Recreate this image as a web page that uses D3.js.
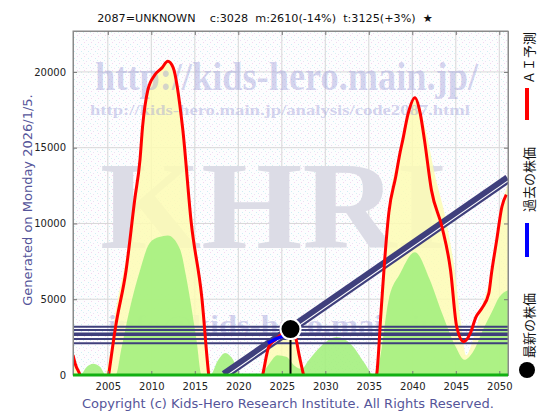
<!DOCTYPE html>
<html><head><meta charset="utf-8">
<script src="https://cdn.jsdelivr.net/npm/d3@7"></script>
<style>body{margin:0;background:#fff}</style>
</head><body><svg id="c" width="560" height="420"></svg>
<script>
// ---------------- data ----------------
const titleText = "2087=UNKNOWN    c:3028  m:2610(-14%)  t:3125(+3%)  \u2605";
const yAxisLabel = "Generated on Monday 2026/1/5.";
const copyrightText = "Copyright (c) Kids-Hero Research Institute. All Rights Reserved.";
const xTicks = [2005, 2010, 2015, 2020, 2025, 2030, 2035, 2040, 2045, 2050];
const yTicks = [0, 5000, 10000, 15000, 20000];
const legendLabels = ["\uFF21\uFF29\u4E88\u6E2C", "\u904E\u53BB\u306E\u682A\u4FA1", "\u6700\u65B0\u306E\u682A\u4FA1"];

// AI forecast (red); negative values fall below the axis and are clipped
const forecastYears  = [2001.0, 2001.3, 2001.8, 2002.8, 2004.2, 2005.1, 2005.9, 2007.1, 2008.1, 2008.7, 2009.0, 2009.6, 2010.4, 2011.2, 2011.9, 2012.5, 2013.6, 2014.6, 2015.8, 2016.6, 2018.0, 2020.5, 2022.8, 2023.5, 2024.2, 2025.0, 2026.0, 2026.6, 2027.0, 2027.5, 2029.5, 2033.5, 2035.9, 2036.4, 2036.8, 2037.3, 2038.1, 2038.6, 2038.9, 2039.5, 2040.3, 2040.9, 2041.4, 2042.2, 2043.4, 2044.4, 2045.1, 2045.9, 2046.7, 2047.3, 2048.0, 2048.8, 2049.1, 2049.7, 2050.3, 2050.8];
const forecastValues = [1320, 660, 0, -3500, -3500, 0, 3200, 6900, 11600, 14200, 16400, 18800, 19800, 20250, 20700, 20300, 16300, 10000, 5150, 0, -4000, -4000, 0, 1850, 2300, 2700, 3000, 2450, 1300, 0, -4000, -4000, 0, 4100, 7400, 10700, 13100, 14700, 15500, 17200, 18300, 17300, 15500, 12200, 9800, 6900, 3200, 2200, 2800, 3800, 4400, 5400, 6700, 8900, 11100, 11900];

// pale yellow band under the forecast
const bandYears  = [2001.0, 2001.9, 2004.6, 2005.3, 2005.9, 2007.0, 2008.1, 2009.0, 2010.4, 2011.9, 2012.6, 2013.7, 2014.7, 2015.8, 2016.5, 2016.9, 2022.7, 2023.5, 2024.5, 2026.0, 2027.0, 2027.6, 2035.7, 2036.4, 2037.3, 2038.6, 2040.3, 2041.6, 2042.6, 2043.8, 2044.8, 2045.6, 2046.2, 2046.9, 2048.0, 2049.1, 2050.3, 2051.0];
const bandValues = [1300, 0, 0, 1600, 4200, 7400, 11800, 16400, 19800, 20600, 19800, 16200, 10400, 5600, 1500, 0, 0, 1900, 2500, 2800, 1600, 0, 0, 4300, 10900, 14800, 18300, 16000, 13200, 10400, 7200, 3400, 1300, 2200, 4500, 6800, 11200, 12600];

// green hills
const hillYears  = [2001.0, 2001.8, 2002.6, 2003.3, 2004.1, 2004.8, 2005.9, 2006.6, 2007.5, 2008.7, 2009.8, 2010.9, 2011.9, 2013.3, 2014.0, 2014.6, 2015.2, 2015.8, 2016.8, 2017.6, 2018.5, 2019.4, 2020.2, 2022.5, 2023.5, 2024.5, 2025.5, 2026.5, 2027.3, 2028.0, 2029.5, 2031.3, 2033.0, 2034.5, 2035.6, 2036.1, 2037.3, 2038.6, 2040.3, 2042.0, 2043.4, 2045.0, 2046.0, 2046.9, 2048.3, 2049.1, 2050.0, 2051.0];
const hillValues = [0, 0, 550, 750, 550, 0, 0, 1850, 4300, 6900, 8700, 9100, 9200, 8300, 6500, 4500, 2300, 0, 0, 900, 1450, 1000, 0, 0, 700, 1300, 1200, 600, 400, 900, 1900, 2500, 2000, 800, 0, 600, 5000, 6700, 8100, 6300, 4100, 1850, 1000, 1450, 3200, 4100, 5150, 5600];

// past price (blue) and latest price
const pastYears  = [2023.4, 2024.2, 2025.1, 2026.0];
const pastValues = [2100, 2350, 2550, 3028];
const latestYear = 2026.0;
const latestValue = 3028;

// trend line and support/resistance levels
const trendYears  = [2018.4, 2051.0];
const trendValues = [0, 12950];
const levelValues = [3190, 2970, 2690, 2380, 2090];
const levelWidths = [2, 2, 3.5, 2, 2];

// ---------------- drawing ----------------
const svg = d3.select("#c");
const L = 73, R = 508, T = 31, B = 375;
const x = d3.scaleLinear().domain([2001, 2051]).range([L, R]);
const y = d3.scaleLinear().domain([0, 22700]).range([B, T]);
const zip = (a, b) => a.map((v, i) => [v, b[i]]);

const defs = svg.append("defs");
defs.append("clipPath").attr("id", "plotclip").append("rect")
  .attr("x", L).attr("y", T).attr("width", R - L).attr("height", B - T);
const pat = defs.append("pattern").attr("id", "dots").attr("width", 7).attr("height", 7)
  .attr("patternUnits", "userSpaceOnUse");
pat.append("rect").attr("width", 7).attr("height", 7).attr("fill", "#fdfdfe");
[[0,0,"#f4d6f0"],[4,2,"#cfeef5"],[2,5,"#ece0f4"],[6,4,"#d8f2f2"]].forEach(([px,py,c]) =>
  pat.append("rect").attr("x", px).attr("y", py).attr("width", 1).attr("height", 1).attr("fill", c));

svg.append("rect").attr("x", L).attr("y", T).attr("width", R - L).attr("height", B - T).attr("fill", "url(#dots)");

// grid
const grid = svg.append("g");
grid.selectAll(".gx").data(xTicks).join("line")
  .attr("x1", d => x(d)).attr("x2", d => x(d)).attr("y1", T).attr("y2", B)
  .attr("stroke", "#d8d8d8").attr("stroke-width", 1);
grid.selectAll(".gy").data(yTicks.slice(1)).join("line")
  .attr("x1", L).attr("x2", R).attr("y1", d => y(d)).attr("y2", d => y(d))
  .attr("stroke", "#d8d8d8").attr("stroke-width", 1);

const plot = svg.append("g").attr("clip-path", "url(#plotclip)");

// watermark KHRI
plot.append("text").text("KHRI")
  .attr("x", 100).attr("y", 248).attr("textLength", 347).attr("lengthAdjust", "spacingAndGlyphs")
  .attr("font-family", "Liberation Serif, serif").attr("font-weight", "bold").attr("font-size", 124)
  .attr("fill", "#dcdce6");

// lower URL watermark sits behind the hills
const wmFont = "Liberation Serif, serif";
plot.append("text").text("info@kids-hero.main.jp").attr("x", 108).attr("y", 334)
  .attr("font-family", wmFont).attr("font-weight", "bold")
  .attr("font-size", 28).attr("textLength", 330).attr("lengthAdjust", "spacingAndGlyphs")
  .attr("fill", "#a8a8dc").attr("fill-opacity", 0.5);

const area = d3.area().x(d => x(d[0])).y0(y(0)).y1(d => y(d[1])).curve(d3.curveMonotoneX);
plot.append("path").datum(zip(bandYears, bandValues)).attr("d", area).attr("fill", "#fdfbb4").attr("fill-opacity", 0.85);
plot.append("path").datum(zip(hillYears, hillValues)).attr("d", area).attr("fill", "#a4f07e").attr("fill-opacity", 0.9);

// upper URL watermarks
const wm = plot.append("g").attr("font-family", wmFont).attr("font-weight", "bold")
  .attr("fill", "#9a9ad8").attr("fill-opacity", 0.42);
wm.append("text").text("http://kids-hero.main.jp/").attr("x", 95).attr("y", 90)
  .attr("font-size", 40).attr("textLength", 383).attr("lengthAdjust", "spacingAndGlyphs");
wm.append("text").text("http://kids-hero.main.jp/analysis/code2087.html").attr("x", 90).attr("y", 115)
  .attr("font-size", 15).attr("textLength", 380).attr("lengthAdjust", "spacingAndGlyphs");

// levels
const navy = "#3f3f7c";
plot.selectAll(".lvl").data(levelValues).join("line")
  .attr("x1", L).attr("x2", R).attr("y1", d => y(d)).attr("y2", d => y(d))
  .attr("stroke", navy).attr("stroke-width", (d, i) => levelWidths[i]);

// trend band
const line = d3.line().x(d => x(d[0])).y(d => y(d[1]));
plot.append("path").datum(zip(trendYears, trendValues)).attr("d", line)
  .attr("stroke", navy).attr("stroke-width", 9).attr("fill", "none");
plot.append("path").datum(zip(trendYears, trendValues)).attr("d", line)
  .attr("transform", "translate(0,2.2)")
  .attr("stroke", "#ffffff").attr("stroke-width", 1.1).attr("fill", "none");

// forecast red
const curve = d3.line().x(d => x(d[0])).y(d => y(d[1])).curve(d3.curveMonotoneX);
plot.append("path").datum(zip(forecastYears, forecastValues)).attr("d", curve)
  .attr("stroke", "#ff0000").attr("stroke-width", 3).attr("fill", "none").attr("stroke-linejoin", "round");

// past blue
plot.append("path").datum(zip(pastYears, pastValues)).attr("d", line)
  .attr("stroke", "#0000ff").attr("stroke-width", 3.5).attr("fill", "none");

// latest marker
plot.append("line").attr("x1", x(latestYear)).attr("x2", x(latestYear))
  .attr("y1", y(latestValue)).attr("y2", y(0)).attr("stroke", "#000").attr("stroke-width", 2);
svg.append("circle").attr("cx", x(latestYear)).attr("cy", y(latestValue)).attr("r", 10)
  .attr("fill", "#000").attr("stroke", "#fff").attr("stroke-width", 2);

// frame
svg.append("rect").attr("x", L).attr("y", T).attr("width", R - L).attr("height", B - T)
  .attr("fill", "none").attr("stroke", "#8a8a8a").attr("stroke-width", 1);
// axes
const axB = svg.append("g").attr("transform", `translate(0,${B})`)
  .call(d3.axisBottom(x).tickValues(xTicks).tickFormat(d3.format("d")).tickSize(-4).tickPadding(8));
const axT = svg.append("g").attr("transform", `translate(0,${T})`)
  .call(d3.axisTop(x).tickValues(xTicks).tickFormat("").tickSize(-4));
const axL = svg.append("g").attr("transform", `translate(${L},0)`)
  .call(d3.axisLeft(y).tickValues(yTicks).tickFormat(d3.format("d")).tickSize(-4).tickPadding(7));
const axR = svg.append("g").attr("transform", `translate(${R},0)`)
  .call(d3.axisRight(y).tickValues(yTicks).tickFormat("").tickSize(-4));
[axB, axT, axL, axR].forEach(a => {
  a.select(".domain").attr("stroke", "#8a8a8a");
  a.selectAll(".tick line").attr("stroke", "#777");
  a.selectAll("text").attr("font-family", "DejaVu Sans, sans-serif").attr("font-size", 10).attr("fill", "#222");
});
// green baseline
svg.append("line").attr("x1", L).attr("x2", R).attr("y1", y(0)).attr("y2", y(0))
  .attr("stroke", "#12b012").attr("stroke-width", 3);

// title
svg.append("text").text(titleText).attr("x", 265).attr("y", 22).attr("text-anchor", "middle")
  .style("white-space", "pre").attr("font-family", "DejaVu Sans, sans-serif").attr("font-size", 11.2).attr("fill", "#111");

// y label
svg.append("text").text(yAxisLabel).attr("transform", "translate(27,200) rotate(-90)")
  .attr("text-anchor", "middle").attr("dominant-baseline", "central")
  .attr("font-family", "DejaVu Sans, sans-serif").attr("font-size", 13).attr("fill", "#55559a");

// copyright
svg.append("text").text(copyrightText).attr("x", 82).attr("y", 408)
  .attr("font-family", "DejaVu Sans, sans-serif").attr("font-size", 13).attr("fill", "#55559a");

// legend (vertical, reading bottom-to-top)
const lg = svg.append("g").attr("font-family", "Noto Sans CJK JP, sans-serif").attr("font-size", 13).attr("fill", "#111");
lg.append("line").attr("x1", 527).attr("x2", 527).attr("y1", 88).attr("y2", 120).attr("stroke", "#ff0000").attr("stroke-width", 4);
lg.append("text").text(legendLabels[0]).attr("transform", "translate(528,84) rotate(-90)").attr("dominant-baseline", "central");
lg.append("line").attr("x1", 527).attr("x2", 527).attr("y1", 223).attr("y2", 257).attr("stroke", "#0000ff").attr("stroke-width", 4);
lg.append("text").text(legendLabels[1]).attr("transform", "translate(528,212) rotate(-90)").attr("dominant-baseline", "central");
lg.append("circle").attr("cx", 527).attr("cy", 370).attr("r", 8).attr("fill", "#000");
lg.append("text").text(legendLabels[2]).attr("transform", "translate(528,358) rotate(-90)").attr("dominant-baseline", "central");
</script></body></html>
